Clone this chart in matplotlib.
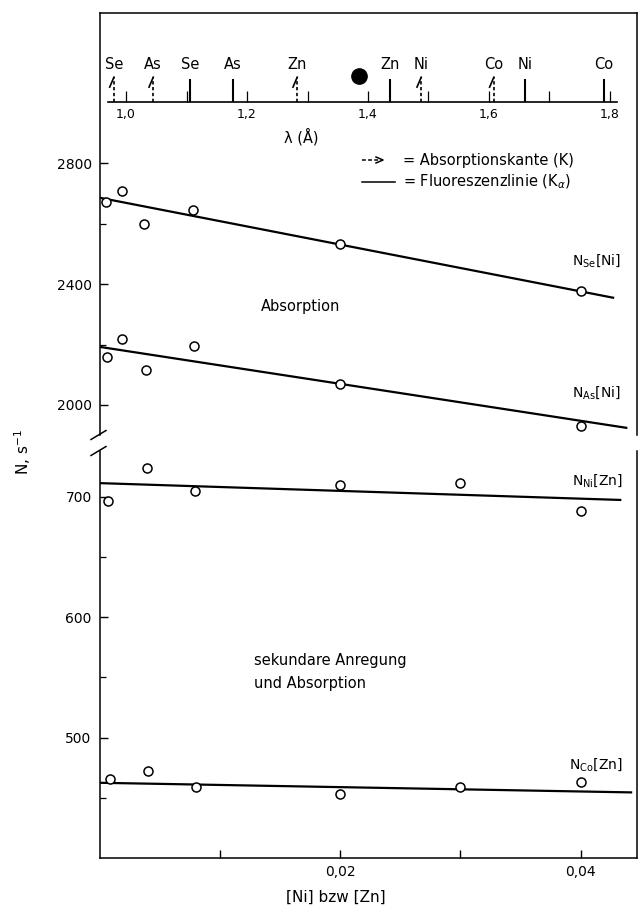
import matplotlib.pyplot as plt
from matplotlib.lines import Line2D
from matplotlib.ticker import FixedLocator, FixedFormatter

W, H = 639, 913

plt.rcParams["font.family"] = ["DejaVu Sans"]
plt.rcParams["font.size"] = 10

# measured counting rates vs. added concentration
x_se = [0.0005, 0.0018, 0.0037, 0.0077, 0.02, 0.04]
n_se = [2671, 2707, 2598, 2645, 2531, 2377]
x_as = [0.0006, 0.0018, 0.0038, 0.0078, 0.02, 0.04]
n_as = [2159, 2218, 2116, 2195, 2069, 1931]
x_ni = [0.0007, 0.0039, 0.0079, 0.02, 0.03, 0.04]
n_ni = [697, 724, 705, 710, 712, 688]
x_co = [0.0008, 0.004, 0.008, 0.02, 0.03, 0.04]
n_co = [466, 472, 459, 453, 459, 463]

# straight-line fits, given by their end points
fit_x_se, fit_n_se = [0, 0.0428], [2685, 2354]
fit_x_as, fit_n_as = [0, 0.0439], [2192, 1924]
fit_x_ni, fit_n_ni = [0, 0.0434], [711.5, 697.5]
fit_x_co, fit_n_co = [0, 0.0443], [462.5, 454.5]

# K absorption edges and K-alpha lines in Angstrom
edge_el = ["Se", "As", "Zn", "Ni", "Co"]
edge_lam = [0.980, 1.045, 1.283, 1.488, 1.608]
line_el = ["Se", "As", "Zn", "Ni", "Co"]
line_lam = [1.106, 1.177, 1.437, 1.659, 1.790]
blob_lam = 1.385

lam_major = [1.0, 1.2, 1.4, 1.6, 1.8]
lam_major_lbl = ["1,0", "1,2", "1,4", "1,6", "1,8"]
lam_minor = [1.1, 1.3, 1.5, 1.7]


def fx(px):
    return px / W


def fy(py):
    return 1 - py / H


fig = plt.figure(figsize=(W / 100, H / 100), dpi=100)

ax_top = fig.add_axes([fx(100), fy(435), fx(637) - fx(100), fy(13) - fy(435)])
ax_bot = fig.add_axes([fx(100), fy(858), fx(637) - fx(100), fy(451) - fy(858)])

for ax in (ax_top, ax_bot):
    ax.set_xlim(0, 0.0447)
    for s in ax.spines.values():
        s.set_linewidth(1.1)
    ax.tick_params(direction="in", length=6, width=1.0, labelsize=10, pad=6)
    ax.tick_params(which="minor", direction="in", length=4, width=0.9)

ax_top.set_ylim(1900.8, 3296)
ax_top.spines["bottom"].set_visible(False)
ax_top.set_xticks([])
ax_top.yaxis.set_major_locator(FixedLocator([2000, 2400, 2800]))
ax_top.yaxis.set_minor_locator(FixedLocator([2200, 2600]))

ax_bot.set_ylim(400, 738.2)
ax_bot.spines["top"].set_visible(False)
ax_bot.yaxis.set_major_locator(FixedLocator([500, 600, 700]))
ax_bot.yaxis.set_minor_locator(FixedLocator([450, 550, 650]))
ax_bot.xaxis.set_major_locator(FixedLocator([0.01, 0.02, 0.03, 0.04]))
ax_bot.xaxis.set_major_formatter(FixedFormatter(["", "0,02", "", "0,04"]))
ax_bot.tick_params(axis="x", pad=5)

line_kw = dict(color="black", lw=1.6, solid_capstyle="butt", zorder=2)
pt_kw = dict(ls="none", marker="o", ms=6.5, mfc="white", mec="black", mew=1.1, zorder=3)

ax_top.plot(fit_x_se, fit_n_se, **line_kw)
ax_top.plot(x_se, n_se, **pt_kw)
ax_top.plot(fit_x_as, fit_n_as, **line_kw)
ax_top.plot(x_as, n_as, **pt_kw)
ax_bot.plot(fit_x_ni, fit_n_ni, **line_kw)
ax_bot.plot(x_ni, n_ni, **pt_kw)
ax_bot.plot(fit_x_co, fit_n_co, **line_kw)
ax_bot.plot(x_co, n_co, **pt_kw)

ax_top.text(0.0393, 2479, r"N$_{\mathrm{Se}}$[Ni]", ha="left", va="center", fontsize=10)
ax_top.text(0.0393, 2040, r"N$_{\mathrm{As}}$[Ni]", ha="left", va="center", fontsize=10)
ax_bot.text(0.0393, 714, r"N$_{\mathrm{Ni}}$[Zn]", ha="left", va="center", fontsize=10)
ax_bot.text(0.0390, 478, r"N$_{\mathrm{Co}}$[Zn]", ha="left", va="center", fontsize=10)
ax_top.text(0.0167, 2324, "Absorption", ha="center", va="center", fontsize=10.5)
ax_bot.text(0.0128, 564, "sekundare Anregung", ha="left", va="center", fontsize=10.5)
ax_bot.text(0.0128, 545, "und Absorption", ha="left", va="center", fontsize=10.5)

# axis break on the left spine
for yb in (435, 451):
    fig.add_artist(Line2D([fx(91), fx(106)], [fy(yb + 4.5), fy(yb - 4.5)], color="black", lw=1.1))

fig.text(fx(23), fy(452), r"N, s$^{-1}$", rotation=90, ha="center", va="center", fontsize=11)
fig.text(fx(336), fy(897), "[Ni] bzw [Zn]", ha="center", va="center", fontsize=11)

# wavelength scale with edges and lines
ax_lam = fig.add_axes([fx(108), fy(102), fx(617) - fx(108), fy(40) - fy(102)])
ax_lam.patch.set_visible(False)
for side in ("top", "left", "right"):
    ax_lam.spines[side].set_visible(False)
ax_lam.spines["bottom"].set_linewidth(1.2)
ax_lam.set_xlim(0.9702, 1.8116)
ax_lam.set_ylim(0, 1)
ax_lam.set_yticks([])
ax_lam.xaxis.set_major_locator(FixedLocator(lam_major))
ax_lam.xaxis.set_major_formatter(FixedFormatter(lam_major_lbl))
ax_lam.xaxis.set_minor_locator(FixedLocator(lam_minor))
ax_lam.tick_params(axis="x", which="both", direction="in", length=8, width=0.9, labelsize=9, pad=4)

for lam, el in zip(line_lam, line_el):
    ax_lam.plot([lam, lam], [0, 0.37], color="black", lw=1.5, solid_capstyle="butt")
    ax_lam.text(lam, 0.6, el, ha="center", va="center", fontsize=10.5)
for lam, el in zip(edge_lam, edge_el):
    ax_lam.plot([lam, lam], [0, 0.40], color="black", lw=1.2, ls=(0, (2, 1.5)))
    ax_lam.plot([lam - 0.007, lam], [0.24, 0.40], color="black", lw=1.2)
    ax_lam.text(lam, 0.6, el, ha="center", va="center", fontsize=10.5)
ax_lam.plot([blob_lam], [0.42], marker="o", ms=11, color="black", ls="none")
ax_lam.text(1.29, -0.565, "λ (Å)", ha="center", va="center", fontsize=10.5)

# key for the two kinds of marks
fig.add_artist(Line2D([fx(362), fx(380)], [fy(160), fy(160)], color="black", lw=1.1, ls=(0, (2.5, 1.5))))
fig.add_artist(Line2D([fx(376), fx(383), fx(376)], [fy(157), fy(160), fy(163)], color="black", lw=1.1))
fig.add_artist(Line2D([fx(362), fx(395)], [fy(182), fy(182)], color="black", lw=1.1))
fig.text(fx(403), fy(160), "= Absorptionskante (K)", ha="left", va="center", fontsize=10.5)
fig.text(fx(403), fy(182), r"= Fluoreszenzlinie (K$_\alpha$)", ha="left", va="center", fontsize=10.5)

fig.savefig("out.png", dpi=100)
